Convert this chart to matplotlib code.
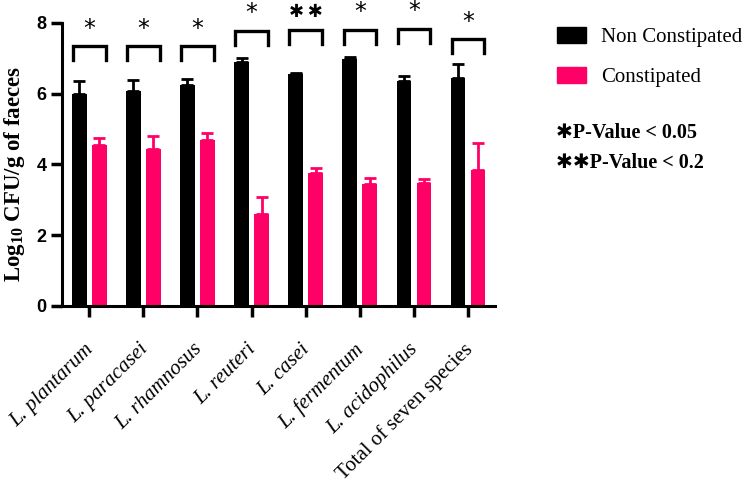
import numpy as np
import matplotlib.pyplot as plt
from matplotlib.patches import Patch

species = ['L. plantarum', 'L. paracasei', 'L. rhamnosus', 'L. reuteri',
           'L. casei', 'L. fermentum', 'L. acidophilus', 'Total of seven species']
non_constipated = [6.0, 6.08, 6.25, 6.91, 6.55, 6.97, 6.36, 6.44]
non_constipated_err = [0.35, 0.3, 0.17, 0.09, 0.04, 0.06, 0.13, 0.39]
constipated = [4.54, 4.43, 4.70, 2.59, 3.75, 3.44, 3.47, 3.85]
constipated_err = [0.2, 0.37, 0.18, 0.48, 0.16, 0.17, 0.11, 0.75]
# significance marks and bracket heights
stars = ['*', '*', '*', '*', '**', '*', '*', '*']
bracket_top = [7.34, 7.34, 7.34, 7.78, 7.80, 7.80, 7.84, 7.54]

black = '#000000'
pink = '#FF0066'

plt.rcParams['mathtext.fontset'] = 'custom'
plt.rcParams['mathtext.bf'] = 'Liberation Serif:bold'
plt.rcParams['mathtext.rm'] = 'Liberation Serif:bold'

fig = plt.figure(figsize=(7.5, 4.88), dpi=100)
ax = fig.add_axes([0.083, 0.373, 0.577, 0.58])

x = np.arange(len(species))
w = 0.27
off = 0.185
ax.bar(x - off, non_constipated, w, color=black,
       yerr=[np.zeros(len(x)), non_constipated_err],
       error_kw=dict(ecolor=black, elinewidth=2, capsize=4, capthick=2))
ax.bar(x + off, constipated, w, color=pink,
       yerr=[np.zeros(len(x)), constipated_err],
       error_kw=dict(ecolor=pink, elinewidth=2, capsize=4, capthick=2))

# brackets with stars
half = off + w / 2 - 0.02
for i in range(len(x)):
    top = bracket_top[i]
    ax.plot([x[i] - half, x[i] - half, x[i] + half, x[i] + half],
            [top - 0.4, top, top, top - 0.4], color='black', lw=2.4,
            clip_on=False, solid_joinstyle='miter')
    if stars[i] == '**':
        ax.text(x[i], top + 0.5, '\u2731\u2009\u2731', ha='center', va='center',
                fontsize=13, family='DejaVu Sans', clip_on=False)
    else:
        ax.text(x[i], top + 0.5, stars[i], ha='center', va='center',
                fontsize=17, family='DejaVu Sans', clip_on=False)

ax.set_xlim(-0.5, 7.5)
ax.set_ylim(0, 8)
ax.set_yticks([0, 2, 4, 6, 8])
ax.set_xticks(x)
ax.set_xticklabels(species, rotation=45, ha='right', va='center_baseline',
                   rotation_mode='anchor', family='Liberation Serif', fontsize=15)
for lbl in ax.get_xticklabels():
    if lbl.get_text().startswith('L.'):
        lbl.set_style('italic')
for lbl in ax.get_yticklabels():
    lbl.set_family('Liberation Sans')
    lbl.set_fontweight('bold')
    lbl.set_fontsize(13)
ax.set_ylabel(r'Log$_{\mathbf{10}}$ CFU/g of faeces', family='Liberation Serif',
              fontweight='bold', fontsize=16.5)
ax.yaxis.set_label_coords(-0.082, 0.465)

ax.spines['top'].set_visible(False)
ax.spines['right'].set_visible(False)
ax.spines['left'].set_linewidth(2.2)
ax.spines['bottom'].set_linewidth(2.2)
ax.tick_params(axis='both', width=2.5, length=8, direction='out')
ax.tick_params(axis='x', pad=20)

handles = [Patch(color=black, label='Non Constipated'),
           Patch(color=pink, label='Constipated')]
fig.legend(handles=handles, loc='upper left', bbox_to_anchor=(0.742, 0.945),
           frameon=False, prop={'family': 'Liberation Serif', 'size': 15},
           handlelength=1.4, handleheight=0.8, handletextpad=0.75,
           labelspacing=0.95, borderaxespad=0, borderpad=0)

fig.text(0.742, 0.727, '\u2731P-Value < 0.05', family=['Liberation Serif', 'DejaVu Sans'],
         fontweight='bold', fontsize=14.5, va='center')
fig.text(0.742, 0.665, '\u2731\u2731P-Value < 0.2', family=['Liberation Serif', 'DejaVu Sans'],
         fontweight='bold', fontsize=14.5, va='center')

fig.savefig('out.png', dpi=100)
